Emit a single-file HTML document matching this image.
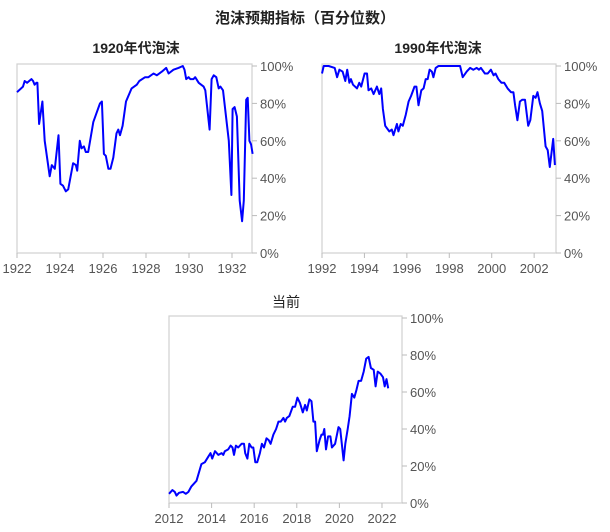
<!DOCTYPE html>
<html><head><meta charset="utf-8"><style>
body{margin:0;background:#fff;}
svg{display:block;font-family:"Liberation Sans","Noto Sans CJK SC",sans-serif;}
</style></head><body>
<svg id="c" width="610" height="532">
<text x="305" y="23" text-anchor="middle" font-size="15" font-weight="bold" fill="#222">泡沫预期指标（百分位数）</text>
</svg>
<script>
const years1=[1922.0,1922.28,1922.36,1922.47,1922.67,1922.75,1922.82,1922.9,1922.95,1923.03,1923.18,1923.29,1923.52,1923.62,1923.76,1923.93,1924.02,1924.14,1924.27,1924.38,1924.61,1924.74,1924.8,1924.92,1925.0,1925.11,1925.2,1925.31,1925.55,1925.7,1925.86,1925.95,1926.04,1926.13,1926.25,1926.35,1926.48,1926.63,1926.71,1926.79,1926.91,1927.07,1927.33,1927.57,1927.69,1927.96,1928.11,1928.35,1928.5,1928.74,1928.94,1929.05,1929.28,1929.51,1929.71,1929.79,1929.87,1929.98,1930.06,1930.21,1930.29,1930.45,1930.68,1930.76,1930.96,1931.05,1931.15,1931.27,1931.38,1931.46,1931.58,1931.85,1931.97,1932.03,1932.12,1932.23,1932.36,1932.47,1932.55,1932.66,1932.73,1932.81,1932.89,1932.96];
const values1=[86,89,92,91,93,92,90,91,91,69,81,60,41,47,45,63,37,36,33,34,48,47,44,60,56,57,54,54,70,75,80,81,53,52,45,45,51,64,66,63,68,81,88,90,92,94,94,96,95,97,99,96,98,99,100,98,93,94,93,93,94,91,89,87,66,93,95,94,88,89,87,60,31,77,78,73,28,17,28,82,83,60,58,53];
const years2=[1992.0,1992.08,1992.31,1992.6,1992.71,1992.82,1992.97,1993.1,1993.19,1993.29,1993.36,1993.46,1993.65,1993.76,1993.85,1994.01,1994.12,1994.19,1994.32,1994.43,1994.59,1994.7,1994.79,1994.87,1994.98,1995.17,1995.29,1995.37,1995.53,1995.6,1995.71,1995.81,1995.95,1996.08,1996.2,1996.36,1996.45,1996.55,1996.68,1996.79,1996.89,1996.98,1997.07,1997.18,1997.25,1997.36,1997.49,1997.81,1998.19,1998.51,1998.63,1998.82,1998.98,1999.13,1999.29,1999.4,1999.49,1999.68,1999.81,1999.96,2000.09,2000.18,2000.31,2000.46,2000.59,2000.75,2000.91,2001.02,2001.1,2001.21,2001.33,2001.44,2001.57,2001.72,2001.82,2001.96,2002.07,2002.16,2002.27,2002.38,2002.54,2002.64,2002.74,2002.9,2002.98];
const values2=[96,100,100,99,94,98,97,92,98,91,93,90,88,91,89,96,96,87,88,85,89,85,88,77,68,65,66,63,69,65,69,68,74,81,84,89,89,79,87,88,93,93,98,97,94,99,100,100,100,100,94,97,99,98,99,98,99,96,96,98,95,96,93,91,91,88,86,86,79,71,81,82,82,68,71,84,83,86,80,76,57,55,46,61,47];
const years3=[2012.0,2012.16,2012.27,2012.35,2012.47,2012.66,2012.79,2012.91,2013.05,2013.29,2013.52,2013.68,2013.84,2013.95,2014.03,2014.16,2014.32,2014.47,2014.55,2014.62,2014.78,2014.89,2014.98,2015.05,2015.14,2015.25,2015.41,2015.52,2015.58,2015.68,2015.77,2015.88,2015.96,2016.05,2016.14,2016.27,2016.36,2016.46,2016.58,2016.68,2016.77,2016.9,2017.03,2017.14,2017.25,2017.37,2017.45,2017.53,2017.65,2017.81,2017.92,2018.03,2018.15,2018.28,2018.39,2018.47,2018.59,2018.69,2018.78,2018.86,2018.94,2019.07,2019.16,2019.23,2019.29,2019.37,2019.47,2019.58,2019.65,2019.8,2019.96,2020.04,2020.2,2020.28,2020.39,2020.48,2020.59,2020.7,2020.8,2020.9,2021.02,2021.14,2021.26,2021.37,2021.48,2021.61,2021.7,2021.8,2021.92,2022.05,2022.13,2022.21,2022.29];
const values3=[5,7,6,4,5.5,6,5,6,9,12,21,22,25,27,24,28,26,27,26,28,29,31,30,26,31,30,32,32,27,24,32,30,30,22,22,27,32,30,35,34,32,37,40,44,44,46,44,46,47,52,52,57,54,49,53,50,56,55,44,44,28,34,37,37,40,29,36,36,30,32,41,40,23,32,40,47,59,57,61,66,66,71,78,79,73,72,63,71,70,68,63,67,62];
const yTicks=[0,20,40,60,80,100];
const yTickLabels=["0%","20%","40%","60%","80%","100%"];
const xTicks1=[1922,1924,1926,1928,1930,1932];
const xTicks2=[1992,1994,1996,1998,2000,2002];
const xTicks3=[2012,2014,2016,2018,2020,2022];

const NS="http://www.w3.org/2000/svg";
const svg=document.getElementById('c');
function mk(tag,attrs,parent){const e=document.createElementNS(NS,tag);for(const k in attrs)e.setAttribute(k,attrs[k]);(parent||svg).appendChild(e);return e;}

function drawChart(cfg){
  const g=mk('g',{});
  
  
  const xs=v=>cfg.left+(v-cfg.x0)/(cfg.x1-cfg.x0)*(cfg.right-cfg.left);
  const ys=v=>cfg.bottom-v/100*(cfg.bottom-cfg.top);
  const t=mk('text',{x:cfg.titleX,y:cfg.titleY,'text-anchor':'middle','font-size':14,'font-weight':cfg.bold?'bold':'normal',fill:'#222'},g);
  t.textContent=cfg.title;
  
  
  const frame=mk('rect',{x:cfg.left,y:cfg.top-2,width:cfg.right-cfg.left,height:cfg.bottom-cfg.top+2,fill:'none',stroke:'#d0d0d0','stroke-width':1.2},g);
  
  
  yTicks.forEach((v,i)=>{
    const y=ys(v);
    const tk=mk('line',{x1:cfg.right,x2:cfg.right+5,y1:y,y2:y,stroke:'#bbb'},g);
    
    
    const lb=mk('text',{x:cfg.right+8,y:y+5,'font-size':13,fill:'#555'},g);
    lb.textContent=yTickLabels[i];
    
    
  });
  cfg.xTicks.forEach(v=>{
    const x=xs(v);
    const tk=mk('line',{x1:x,x2:x,y1:cfg.bottom,y2:cfg.bottom+5,stroke:'#bbb'},g);
    
    
    const lb=mk('text',{x:x,y:cfg.bottom+20,'text-anchor':'middle','font-size':13,fill:'#555'},g);
    lb.textContent=v;
    
    
  });
  const d=cfg.xv.map((v,i)=>(i?'L':'M')+xs(v).toFixed(1)+','+ys(cfg.yv[i]).toFixed(1)).join('');
  const p=mk('path',{d:d,fill:'none',stroke:'#0000ff','stroke-width':2,'stroke-linejoin':'round'},g);
  
  
}
drawChart({name:'chart-1920s',title:'1920年代泡沫',bold:true,titleX:136,titleY:53,left:17,right:252,top:66,bottom:253,x0:1922,x1:1932.93,xTicks:xTicks1,xv:years1,yv:values1});
drawChart({name:'chart-1990s',title:'1990年代泡沫',bold:true,titleX:438,titleY:53,left:322,right:556,top:66,bottom:253,x0:1992,x1:2003.03,xTicks:xTicks2,xv:years2,yv:values2});
drawChart({name:'chart-current',title:'当前',bold:false,titleX:286,titleY:307,left:169,right:402,top:318,bottom:503,x0:2012,x1:2022.94,xTicks:xTicks3,xv:years3,yv:values3});
</script>
</body></html>
